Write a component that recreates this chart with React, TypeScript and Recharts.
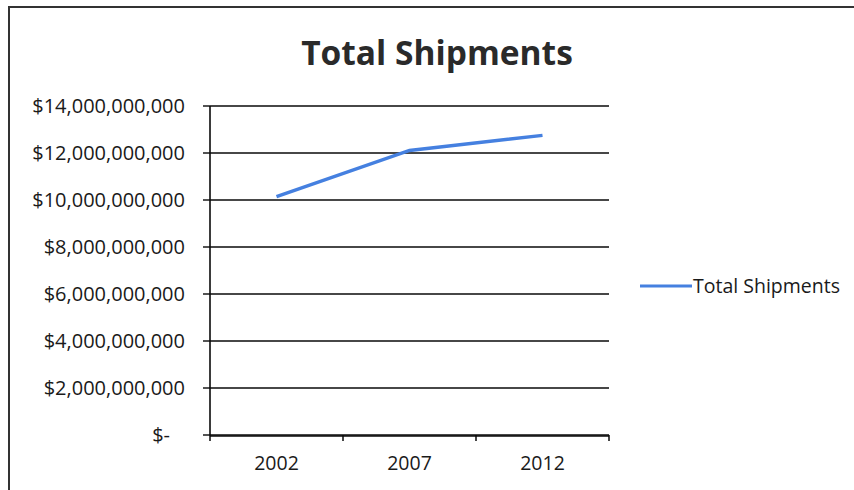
import React from "react";
import { LineChart, Line, XAxis, YAxis, CartesianGrid } from "recharts";

// Shipment value per census year
const years = ["2002", "2007", "2012"];
const totalShipments = [10140000000, 12110000000, 12750000000];
const yTicks = [0, 2000000000, 4000000000, 6000000000, 8000000000, 10000000000, 12000000000, 14000000000];
const boundaryTicks = [0, 1, 2, 3];
const seriesName = "Total Shipments";

// slot = centre of each year's band on the 0..3 boundary axis
const data = years.map((year, i) => ({ year, slot: i + 0.5, total: totalShipments[i] }));

const FONT = "'Open Sans', 'Noto Sans', sans-serif";
const INK = "#1a1a1a";
const RULE = "#0a0a0a";
const LINE_BLUE = "#4580e0";

const formatDollars = (v: number) =>
  v === 0 ? "$-" : "$" + v.toLocaleString("en-US");

const YTick = (props: any) => {
  const { x, y, payload } = props;
  const isZero = payload.value === 0;
  return (
    <text
      x={x}
      y={y}
      dx={isZero ? -15 : 0}
      dy={7}
      textAnchor="end"
      fill={INK}
      fontSize={20}
      fontFamily={FONT}
    >
      {formatDollars(payload.value)}
    </text>
  );
};

const NoLabel = () => <g />;

export default function App() {
  return (
    <div style={{ position: "absolute", left: 0, top: 0, width: 854, height: 490, background: "#fff", overflow: "hidden" }}>
      <div
        style={{
          position: "absolute",
          left: 8,
          top: 6,
          width: 900,
          height: 520,
          border: "2px solid #333",
          boxSizing: "border-box",
        }}
      />
      <div
        style={{
          position: "absolute",
          left: 0,
          width: 874,
          top: 30,
          textAlign: "center",
          fontFamily: FONT,
          fontWeight: 700,
          fontSize: 33.5,
          color: "#2a2a2a",
          lineHeight: "44px",
        }}
      >
        Total Shipments
      </div>
      <div style={{ position: "absolute", left: 0, top: 0 }}>
        <LineChart width={854} height={490} data={data} margin={{ top: 106, right: 245, bottom: 0, left: 0 }}>
          <CartesianGrid vertical={false} stroke={RULE} strokeWidth={1.4} horizontalValues={yTicks} />
          <XAxis
            xAxisId="bounds"
            dataKey="slot"
            type="number"
            domain={[0, 3]}
            allowDataOverflow
            ticks={boundaryTicks}
            interval={0}
            tick={<NoLabel />}
            axisLine={false}
            tickSize={6}
            tickLine={{ stroke: RULE, strokeWidth: 1.5 }}
            height={1}
          />
          <XAxis
            xAxisId="year"
            dataKey="year"
            type="category"
            scale="band"
            height={54}
            tickLine={false}
            axisLine={{ stroke: RULE, strokeWidth: 1.6 }}
            tick={{ fill: INK, fontSize: 19.5, fontFamily: FONT }}
            tickMargin={14}
          />
          <YAxis
            width={210}
            domain={[0, 14000000000]}
            ticks={yTicks}
            interval={0}
            tick={<YTick />}
            tickSize={7}
            tickMargin={18}
            axisLine={{ stroke: RULE, strokeWidth: 1.6 }}
            tickLine={{ stroke: RULE, strokeWidth: 1.4 }}
          />
          <Line
            xAxisId="year"
            type="linear"
            dataKey="total"
            name={seriesName}
            stroke={LINE_BLUE}
            strokeWidth={3.5}
            dot={false}
            activeDot={false}
            isAnimationActive={false}
          />
        </LineChart>
      </div>
      <div
        style={{
          position: "absolute",
          left: 640,
          top: 272,
          display: "flex",
          alignItems: "center",
          fontFamily: FONT,
          fontSize: 19.5,
          color: INK,
        }}
      >
        <svg width={52} height={6} style={{ marginRight: 1 }}>
          <line x1={0} y1={3} x2={52} y2={3} stroke={LINE_BLUE} strokeWidth={3} />
        </svg>
        <span>{seriesName}</span>
      </div>
    </div>
  );
}
